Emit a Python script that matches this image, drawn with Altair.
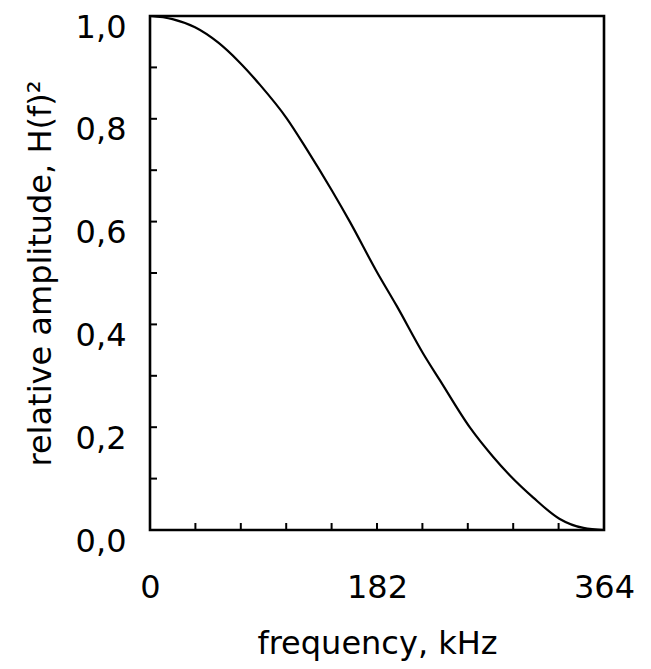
import altair as alt
import pandas as pd

# curve (frequency kHz, relative amplitude)
freq = [0, 18, 36.1, 54.8, 70.9, 88.2, 109.6, 125.6, 145.7, 160.4, 181.7,
        197.8, 219.1, 232.5, 256.6, 275.2, 288.6, 307.3, 328.2, 347.5, 364]
amp = [1.0, 0.994, 0.978, 0.948, 0.912, 0.866, 0.801, 0.741, 0.661, 0.599, 0.503,
       0.436, 0.343, 0.291, 0.199, 0.142, 0.106, 0.063, 0.022, 0.004, 0.0]

x_ticks = [0, 36.4, 72.8, 109.2, 145.6, 182, 218.4, 254.8, 291.2, 327.6, 364]
x_labels = [0, 182, 364]
y_ticks = [0.0, 0.1, 0.2, 0.3, 0.4, 0.5, 0.6, 0.7, 0.8, 0.9, 1.0]
y_labels = [0.0, 0.2, 0.4, 0.6, 0.8, 1.0]

FONT = "DejaVu Sans"
FS = 32

curve = pd.DataFrame({"f": freq, "h": amp})
xt = pd.DataFrame({"f": x_ticks})
yt = pd.DataFrame({"h": y_ticks})

xscale = alt.Scale(domain=[0, 364], nice=False, zero=False)
yscale = alt.Scale(domain=[0, 1], nice=False, zero=False)

x_axis = alt.Axis(values=x_labels, ticks=False, tickSize=0, domain=False, grid=False,
                  labelPadding=42, labelFontSize=FS, labelFont=FONT, labelColor="black",
                  title="frequency, kHz", titleFontSize=FS, titleFont=FONT,
                  titleFontWeight="normal", titleColor="black", titlePadding=25,
                  labelFlush=False)
y_axis = alt.Axis(values=y_labels, ticks=False, tickSize=0, domain=False, grid=False,
                  labelPadding=24, labelFontSize=FS, labelFont=FONT, labelColor="black",
                  labelBaseline="top", labelFlush=False, labelOffset=-4,
                  labelExpr="replace(format(datum.value, '.1f'), '.', ',')",
                  title="relative amplitude, H(f)²", titleFontSize=FS, titleFont=FONT,
                  titleFontWeight="normal", titleColor="black", titlePadding=18)

line = alt.Chart(curve).mark_line(color="black", strokeWidth=2.2, interpolate="monotone").encode(
    x=alt.X("f:Q", scale=xscale, axis=x_axis),
    y=alt.Y("h:Q", scale=yscale, axis=y_axis),
)

xtick = alt.Chart(xt).mark_rule(color="black", strokeWidth=2).encode(
    x=alt.X("f:Q", scale=xscale, axis=x_axis),
    y=alt.value(514),
    y2=alt.value(507),
)

ytick = alt.Chart(yt).mark_rule(color="black", strokeWidth=2).encode(
    y=alt.Y("h:Q", scale=yscale, axis=y_axis),
    x=alt.value(0),
    x2=alt.value(7),
)

chart = alt.layer(line, xtick, ytick).properties(
    width=454, height=514,
    autosize=alt.AutoSizeParams(type="none"),
    padding={"left": 142, "top": 8, "right": 30, "bottom": 131},
    background="white",
).configure_view(stroke="black", strokeWidth=2.6)

chart.save("out.html", embed_options={"renderer": "svg", "actions": False})
